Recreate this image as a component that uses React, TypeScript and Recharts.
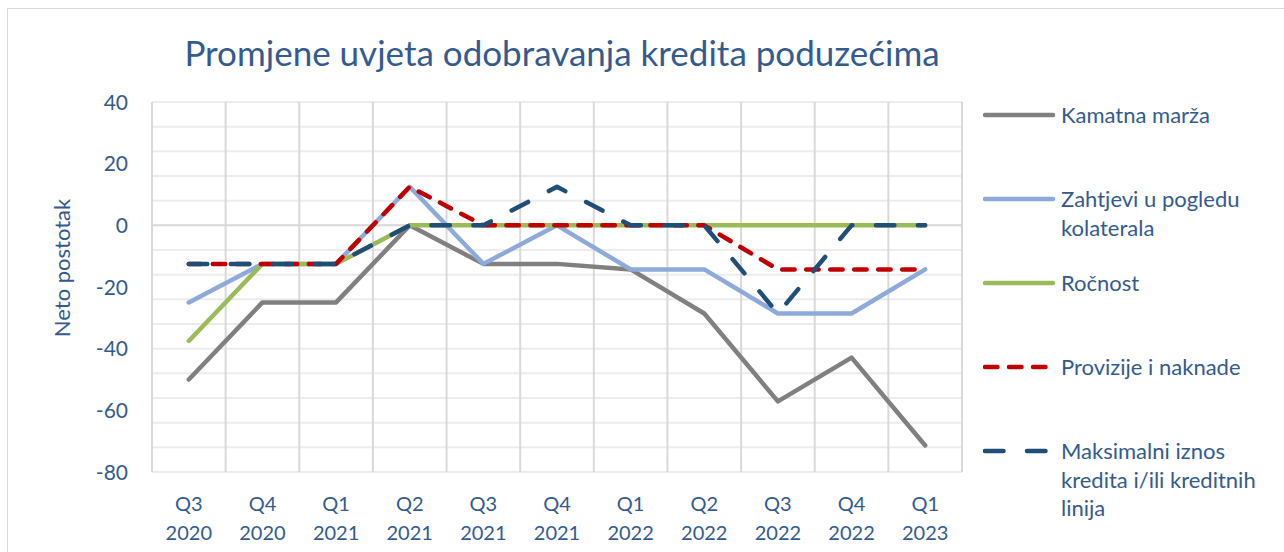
import { LineChart, Line, XAxis, YAxis, CartesianGrid, ReferenceLine, Legend } from 'recharts';

const categories = ['Q3 2020', 'Q4 2020', 'Q1 2021', 'Q2 2021', 'Q3 2021', 'Q4 2021', 'Q1 2022', 'Q2 2022', 'Q3 2022', 'Q4 2022', 'Q1 2023'];
const kamatnaMarza = [-50, -25, -25, 0, -12.5, -12.5, -14.3, -28.6, -57.1, -42.9, -71.4];
const kolateral = [-25, -12.5, -12.5, 12.5, -12.5, 0, -14.3, -14.3, -28.6, -28.6, -14.3];
const rocnost = [-37.5, -12.5, -12.5, 0, 0, 0, 0, 0, 0, 0, 0];
const provizije = [-12.5, -12.5, -12.5, 12.5, 0, 0, 0, 0, -14.3, -14.3, -14.3];
const maksimalniIznos = [-12.5, -12.5, -12.5, 0, 0, 12.5, 0, 0, -28.6, 0, 0];

const yTicks = [-80, -60, -40, -20, 0, 20, 40];
const minorTicks = [-80, -76, -72, -68, -64, -60, -56, -52, -48, -44, -40, -36, -32, -28, -24, -20, -16, -12, -8, -4, 0, 4, 8, 12, 16, 20, 24, 28, 32, 36, 40];

const data = categories.map((c, i) => ({
  cat: c,
  kamatna: kamatnaMarza[i],
  kolateral: kolateral[i],
  rocnost: rocnost[i],
  provizije: provizije[i],
  maks: maksimalniIznos[i],
}));

const TEXT = '#335b8f';
const FONT = 'Lato, "Noto Sans", sans-serif';

const series = [
  { key: 'kamatna', name: ['Kamatna marža'], color: '#808080', dash: undefined },
  { key: 'kolateral', name: ['Zahtjevi u pogledu', 'kolaterala'], color: '#8eaadb', dash: undefined },
  { key: 'rocnost', name: ['Ročnost'], color: '#9bbb59', dash: undefined },
  { key: 'provizije', name: ['Provizije i naknade'], color: '#c00000', dash: '12.5 11.5' },
  { key: 'maks', name: ['Maksimalni iznos', 'kredita i/ili kreditnih', 'linija'], color: '#1f4e79', dash: '18.5 23.5' },
];

const XTick = (props: any) => {
  const { x, y, payload } = props;
  const [q, yr] = String(payload.value).split(' ');
  return (
    <text x={x} y={y} textAnchor="middle" fill={TEXT} fontSize={20} fontFamily={FONT}>
      <tspan x={x} dy={31}>{q}</tspan>
      <tspan x={x} dy={29}>{yr}</tspan>
    </text>
  );
};

const YTick = (props: any) => {
  const { x, y, payload } = props;
  return (
    <text x={x} y={y} dy="0.36em" textAnchor="end" fill={TEXT} fontSize={21} fontFamily={FONT}>
      {payload.value}
    </text>
  );
};

const LegendContent = () => (
  <div style={{ fontFamily: FONT, fontSize: 22, color: TEXT }}>
    {series.map((s) => (
      <div key={s.key} style={{ display: 'flex', height: 84, alignItems: 'flex-start' }}>
        <svg width={78} height={28} style={{ flex: 'none' }}>
          <line x1={2} y1={14} x2={70} y2={14} stroke={s.color} strokeWidth={4.5}
            strokeLinecap="round" strokeDasharray={s.dash} />
        </svg>
        <div style={{ lineHeight: '28.5px' }}>
          {s.name.map((n) => <div key={n}>{n}</div>)}
        </div>
      </div>
    ))}
  </div>
);

export default function App() {
  return (
    <div style={{ position: 'absolute', left: 0, top: 0, width: 1284, height: 552, overflow: 'hidden', background: '#fff' }}>
      <div style={{ position: 'absolute', left: 7, top: 8, width: 1300, height: 600, border: '1px solid #d9d9d9' }} />
      <div style={{ position: 'absolute', left: 0, width: 1124, top: 31, textAlign: 'center', fontFamily: FONT, fontSize: 35, color: TEXT }}>
        Promjene uvjeta odobravanja kredita poduzećima
      </div>
      <LineChart width={1284} height={552} data={data}
        margin={{ top: 102, right: 22, bottom: 0, left: 0 }}>
        <CartesianGrid vertical={false} stroke="#ececec" strokeWidth={2} horizontalValues={minorTicks} />
        <CartesianGrid horizontal={false} stroke="#d9d9d9" strokeWidth={2}
          verticalCoordinatesGenerator={({ offset }: any) =>
            categories.concat(['']).map((_, i) => offset.left + (i * offset.width) / categories.length)} />
        <ReferenceLine y={0} stroke="#d9d9d9" strokeWidth={2} />
        <XAxis dataKey="cat" height={80} axisLine={false} tickLine={false} interval={0}
          padding={{ left: 36.8, right: 36.8 }} tick={<XTick />} />
        <YAxis width={152} domain={[-80, 40]} ticks={yTicks} axisLine={false} tickLine={false}
          tickSize={0} tickMargin={24} tick={<YTick />}
          label={{ value: 'Neto postotak', angle: -90, position: 'insideLeft', offset: 62, dy: -19,
            style: { fill: TEXT, fontSize: 22, fontFamily: FONT, textAnchor: 'middle' } }} />
        {series.map((s) => (
          <Line key={s.key} dataKey={s.key} name={s.name.join(' ')} stroke={s.color} strokeWidth={4.5}
            strokeDasharray={s.dash} strokeLinecap="round" strokeLinejoin="round"
            dot={false} activeDot={false} isAnimationActive={false} />
        ))}
        <Legend layout="vertical" verticalAlign="top" align="right" content={<LegendContent />}
          wrapperStyle={{ left: 983, top: 101, width: 300 }} />
      </LineChart>
    </div>
  );
}
